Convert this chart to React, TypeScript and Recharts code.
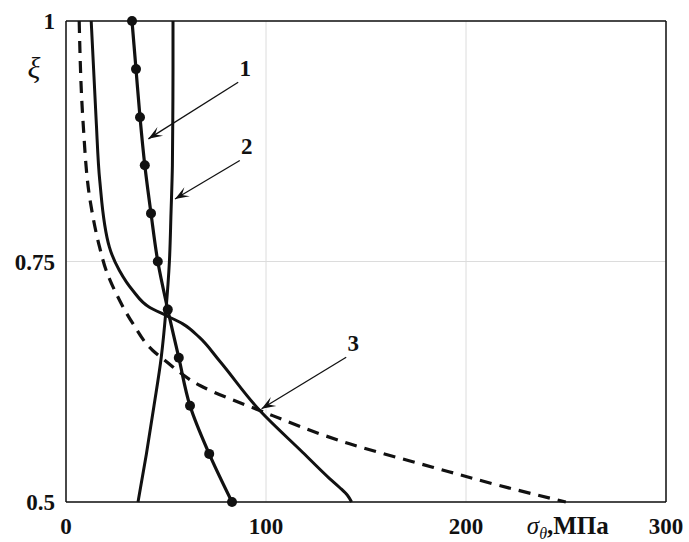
import { LineChart, Line, XAxis, YAxis, CartesianGrid, ReferenceLine } from 'recharts'

// curves 1 and 2 are sampled at the same xi levels
const xiLevels = [1, 0.95, 0.9, 0.85, 0.8, 0.75, 0.7, 0.65, 0.6, 0.55, 0.5]
const curve1Stress = [33, 35, 37, 39.4, 42.5, 45.9, 50.9, 56.4, 62, 71.6, 83]
const curve2Stress = [53.5, 53.5, 53.4, 53.2, 52.5, 51.7, 50, 47.6, 44, 40.2, 36]

const curve3Xi = [1, 0.896, 0.8337, 0.7649, 0.7407, 0.7199, 0.7025, 0.6939, 0.6852, 0.6713, 0.6471, 0.5951, 0.5515, 0.5244, 0.5151, 0.5068, 0.5]
const curve3Stress = [12.6, 15.1, 16.9, 21.7, 26.7, 33.4, 41.7, 50, 58.4, 66.6, 76.6, 96.9, 118.4, 131.8, 136.8, 140.8, 142.8]

const dashedXi = [1, 0.896, 0.8129, 0.7649, 0.7407, 0.7167, 0.6856, 0.6575, 0.6471, 0.6211, 0.5951, 0.5605, 0.5362, 0.5172, 0.5]
const dashedStress = [6.6, 8.5, 12.1, 16.8, 20.1, 25.1, 33.4, 43.4, 49.5, 67, 96.9, 141.8, 183.3, 216.6, 249.9]

const xTicks = [0, 100, 200, 300]
const yTicks = [0.5, 0.75, 1]

// callout arrows: label, start (stress, xi), tip (stress, xi)
const arrowLabels = ['1', '2', '3']
const arrowFrom = [
  [86.1, 0.9364],
  [86.9, 0.855],
  [140.1, 0.6505],
]
const arrowTo = [
  [41.2, 0.8775],
  [54.5, 0.815],
  [97.8, 0.597],
]

const toPoints = (xi: number[], v: number[]) => xi.map((x, i) => ({ xi: x, v: v[i] }))

const curve1 = toPoints(xiLevels, curve1Stress)
const curve2 = toPoints(xiLevels, curve2Stress)
const curve3 = toPoints(curve3Xi, curve3Stress)
const dashed = toPoints(dashedXi, dashedStress)

const serif = '"Liberation Serif", "Times New Roman", serif'

function Arrow(props: any, label: string) {
  const { x1, y1, x2, y2 } = props
  const ang = Math.atan2(y2 - y1, x2 - x1)
  const len = 15
  const spread = 0.36
  const ax = x2 - len * Math.cos(ang - spread)
  const ay = y2 - len * Math.sin(ang - spread)
  const bx = x2 - len * Math.cos(ang + spread)
  const by = y2 - len * Math.sin(ang + spread)
  return (
    <g>
      <line x1={x1} y1={y1} x2={x2} y2={y2} stroke="#111" strokeWidth={1.3} />
      <path d={`M${ax},${ay} L${x2},${y2} L${bx},${by} L${x2 - 8 * Math.cos(ang)},${y2 - 8 * Math.sin(ang)} Z`} fill="#111" />
      <text
        x={x1 + 7}
        y={y1 - 6}
        textAnchor="middle"
        fontFamily={serif}
        fontWeight="bold"
        fontSize={23}
        fill="#111"
      >
        {label}
      </text>
    </g>
  )
}

const XLabel = (props: any) => {
  const { viewBox } = props
  const x = viewBox.x + viewBox.width * 0.768
  const y = viewBox.y + 32
  return (
    <text x={x} y={y} fontFamily={serif} fill="#111" fontSize={25}>
      <tspan fontStyle="italic">σ</tspan>
      <tspan fontStyle="italic" fontSize={16} dy={5}>θ</tspan>
      <tspan fontWeight="bold" dy={-5}>,МПа</tspan>
    </text>
  )
}

const YLabel = (props: any) => {
  const { viewBox } = props
  return (
    <text
      x={viewBox.x + 34}
      y={viewBox.y + 57}
      textAnchor="middle"
      fontFamily={serif}
      fontStyle="italic"
      fontSize={30}
      fill="#111"
    >
      ξ
    </text>
  )
}

const tickStyle = { fontFamily: serif, fontWeight: 'bold' as const, fontSize: 23, fill: '#111' }

export default function App() {
  return (
    <div style={{ position: 'absolute', left: 0, top: 0, width: 689, height: 542, background: '#fff' }}>
      <LineChart
        width={689}
        height={542}
        layout="vertical"
        margin={{ top: 21, right: 23, bottom: 0, left: 0 }}
      >
        <CartesianGrid stroke="#dcdcdc" strokeWidth={1} />
        <XAxis
          type="number"
          dataKey="v"
          domain={[0, 300]}
          ticks={xTicks}
          height={40}
          tick={tickStyle}
          tickLine={false}
          tickMargin={10}
          axisLine={{ stroke: '#111', strokeWidth: 1.5 }}
          label={{ content: XLabel }}
        />
        <YAxis
          type="number"
          dataKey="xi"
          domain={[0.5, 1]}
          ticks={yTicks}
          reversed
          width={66}
          tick={tickStyle}
          tickLine={false}
          tickMargin={5}
          axisLine={{ stroke: '#111', strokeWidth: 1.5 }}
          label={{ content: YLabel }}
        />
        <ReferenceLine y={1} stroke="#111" strokeWidth={1.5} />
        <ReferenceLine x={300} stroke="#111" strokeWidth={1.5} />

        <Line
          data={dashed}
          dataKey="v"
          type="monotone"
          stroke="#111"
          strokeWidth={3.2}
          strokeDasharray="12 8"
          dot={false}
          isAnimationActive={false}
        />
        <Line
          data={curve3}
          dataKey="v"
          type="monotone"
          stroke="#111"
          strokeWidth={3}
          dot={false}
          isAnimationActive={false}
        />
        <Line
          data={curve2}
          dataKey="v"
          type="monotone"
          stroke="#111"
          strokeWidth={3}
          dot={false}
          isAnimationActive={false}
        />
        <Line
          data={curve1}
          dataKey="v"
          type="monotone"
          stroke="#111"
          strokeWidth={3.2}
          dot={{ r: 5, fill: '#111', stroke: '#111', strokeWidth: 0 }}
          isAnimationActive={false}
        />

        {arrowLabels.map((label, i) => (
          <ReferenceLine
            key={label}
            segment={[
              { x: arrowFrom[i][0], y: arrowFrom[i][1] },
              { x: arrowTo[i][0], y: arrowTo[i][1] },
            ]}
            shape={(p: any) => Arrow(p, label)}
          />
        ))}
      </LineChart>
    </div>
  )
}
